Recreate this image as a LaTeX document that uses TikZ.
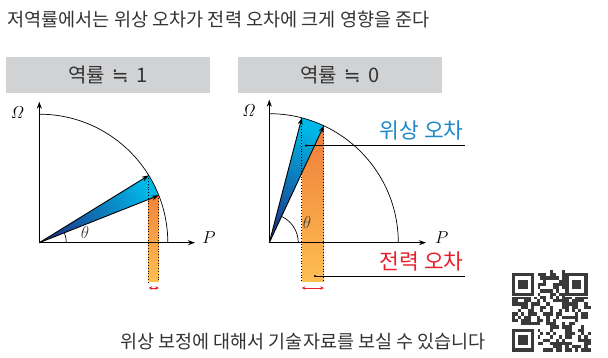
\documentclass[tikz,border=0pt]{standalone}
\usepackage{amsmath}
\usepackage[no-math]{fontspec}
\usepackage{xcolor}
\usepackage{tikz}
\usetikzlibrary{arrows.meta,positioning,calc}

\newfontfamily\kr{Noto Sans CJK KR}
\newfontfamily\dv{DejaVu Sans}

\definecolor{hdrgray}{HTML}{D1D2D4}
\definecolor{txtgray}{HTML}{333333}
\definecolor{navyblue}{HTML}{1B3A8C}
\definecolor{skyblue}{HTML}{00B8E8}
\definecolor{darkorange}{HTML}{EF7838}
\definecolor{lightorange}{HTML}{FDBF52}
\definecolor{phaseblue}{HTML}{1E88C8}
\definecolor{powerred}{HTML}{E8202A}
\definecolor{qrdark}{HTML}{3A3A3A}

\begin{document}
\begin{tikzpicture}[
    x=1pt, y=1pt,
    title/.style={font=\kr\fontsize{18.6}{22}\selectfont, text=txtgray, inner sep=0pt},
    header/.style={fill=hdrgray, minimum width=204pt, minimum height=36pt, inner sep=0pt, font=\kr\fontsize{20}{24}\selectfont, text=txtgray},
    axislab/.style={font=\fontsize{19}{22}\selectfont, inner sep=0pt},
    anglab/.style={font=\fontsize{17}{20}\selectfont, inner sep=0pt, text=black!75},
    errlab/.style={font=\kr\fontsize{21.5}{24}\selectfont, inner sep=0pt},
    axis/.style={-{Stealth[length=7pt, width=5pt]}, line width=0.9pt},
    vec/.style={-{Stealth[length=7pt, width=5pt]}, line width=0.9pt},
    circ/.style={line width=0.7pt},
    dots/.style={dotted, line width=0.8pt},
    bar/.style={top color=darkorange, bottom color=lightorange},
    sector/.style={bottom color=navyblue, top color=skyblue},
    gap/.style={{Stealth[length=3.5pt, width=3.5pt]}-{Stealth[length=3.5pt, width=3.5pt]}, powerred, line width=0.6pt},
    leader/.style={line width=0.8pt},
]
\useasboundingbox (0,0) rectangle (608,358);

% === TITLE ===
\node[title, anchor=west] (title) at (7,339) {저역률에서는 위상 오차가 전력 오차에 크게 영향을 준다};

% === LEFT: PF ~ 1 ===
\node[header] (head1) at (108,283) {역률\hspace{7pt}{\dv ≒}\hspace{8pt}1};
\coordinate (o1) at (39.3,115.3);
\coordinate (bot) at (0,76);
\coordinate (u1) at ($(o1)+(31.6:128.5)$);
\coordinate (l1) at ($(o1)+(21.6:128.5)$);
\coordinate (r1) at ($(o1)+(128.5,0)$);

\begin{scope}
  \clip (o1) -- (l1) -- (l1 |- bot) -- (o1 |- bot) -- cycle;
  \shade[bar] (u1 |- bot) rectangle (l1 |- u1);
\end{scope}
\shade[sector, shading angle=-64] (o1) -- (l1) arc[start angle=21.6, end angle=31.6, radius=128.5] -- cycle;
\draw[circ] (r1) arc[start angle=0, end angle=90, radius=128.5];
\draw[dots] (u1) -- (u1 |- bot);
\draw[dots] (l1) -- (l1 |- bot);
\draw[axis] (o1) -- ++(0,141);
\draw[axis] (o1) -- (195,115.3);
\draw[vec] (o1) -- (u1);
\draw[vec] (o1) -- (l1);
\draw[line width=0.7pt] ($(o1)+(27,0)$) arc[start angle=0, end angle=21.6, radius=27];

\node[axislab] (om1) at (17.5,245) {$\mathit{\Omega}$};
\node[axislab] (p1) at (209,120) {$P$};
\node[anglab] (th1) at (85,125) {$\theta$};
\draw[gap] ($(u1 |- bot)+(0,-6)$) -- ($(l1 |- bot)+(0,-6)$);

% === RIGHT: PF ~ 0 ===
\node[header] (head2) at (340,283) {역률\hspace{7pt}{\dv ≒}\hspace{8pt}0};
\coordinate (o2) at (269.3,115.3);
\coordinate (u2) at ($(o2)+(75.4:129)$);
\coordinate (l2) at ($(o2)+(65:129)$);
\coordinate (r2) at ($(o2)+(129,0)$);

\draw[line width=0.7pt] ($(o2)+(29,0)$) arc[start angle=0, end angle=65, radius=29];
\begin{scope}
  \clip (o2) -- (l2) -- (l2 |- bot) -- (o2 |- bot) -- cycle;
  \shade[bar] (u2 |- bot) rectangle (l2 |- u2);
\end{scope}
\shade[sector, shading angle=-20] (o2) -- (l2) arc[start angle=65, end angle=75.4, radius=129] -- cycle;
\draw[circ] (r2) arc[start angle=0, end angle=90, radius=129];
\draw[dots] (u2) -- (u2 |- bot);
\draw[dots] (l2) -- (l2 |- bot);
\draw[axis] (o2) -- ++(0,143);
\draw[axis] (o2) -- (426,115.3);
\draw[vec] (o2) -- (u2);
\draw[vec] (o2) -- (l2);

\node[axislab] (om2) at (249,247) {$\mathit{\Omega}$};
\node[axislab] (p2) at (441.7,120) {$P$};
\node[anglab] (th2) at (307,135) {$\theta$};
\draw[gap] ($(u2 |- bot)+(0,-6)$) -- ($(l2 |- bot)+(0,-6)$);

% labels with leaders
\node[errlab, text=phaseblue] (phase) at (421.7,228) {위상 오차};
\node[errlab, text=powerred] (power) at (421.7,96.3) {전력 오차};
\coordinate (pdot) at (306,212.3);
\coordinate (wdot) at (315,82);
\fill (pdot) circle (1.2pt);
\fill (wdot) circle (1.2pt);
\draw[leader] (pdot) -- (465,212.3);
\draw[leader] (wdot) -- (465,82);

% === FOOTER ===
\node[title, font=\kr\fontsize{18.5}{22}\selectfont] (note) at (303,16.5) {위상 보정에 대해서 기술자료를 보실 수 있습니다};

% QR code
\begin{scope}[shift={(511.7,6.3)}, x=3.16pt, y=3.28pt]
  \pgfmathsetseed{4711}
  \foreach \i in {0,...,24}
    \foreach \j in {0,...,24} {
      \pgfmathrandominteger{\r}{0}{1}
      \ifnum\r=1 \fill[qrdark] (\i,\j) rectangle ++(1,1); \fi
    }
  \foreach \cx/\cy in {0/0, 0/17, 17/17} {
    \fill[white] (\cx,\cy) ++(-0.2,-0.2) rectangle ++(8.4,8.4);
    \fill[qrdark] (\cx,\cy) rectangle ++(7,7);
    \fill[white] (\cx,\cy) ++(1,1) rectangle ++(5,5);
    \fill[qrdark] (\cx,\cy) ++(2,2) rectangle ++(3,3);
  }
\end{scope}
\end{tikzpicture}
\end{document}
